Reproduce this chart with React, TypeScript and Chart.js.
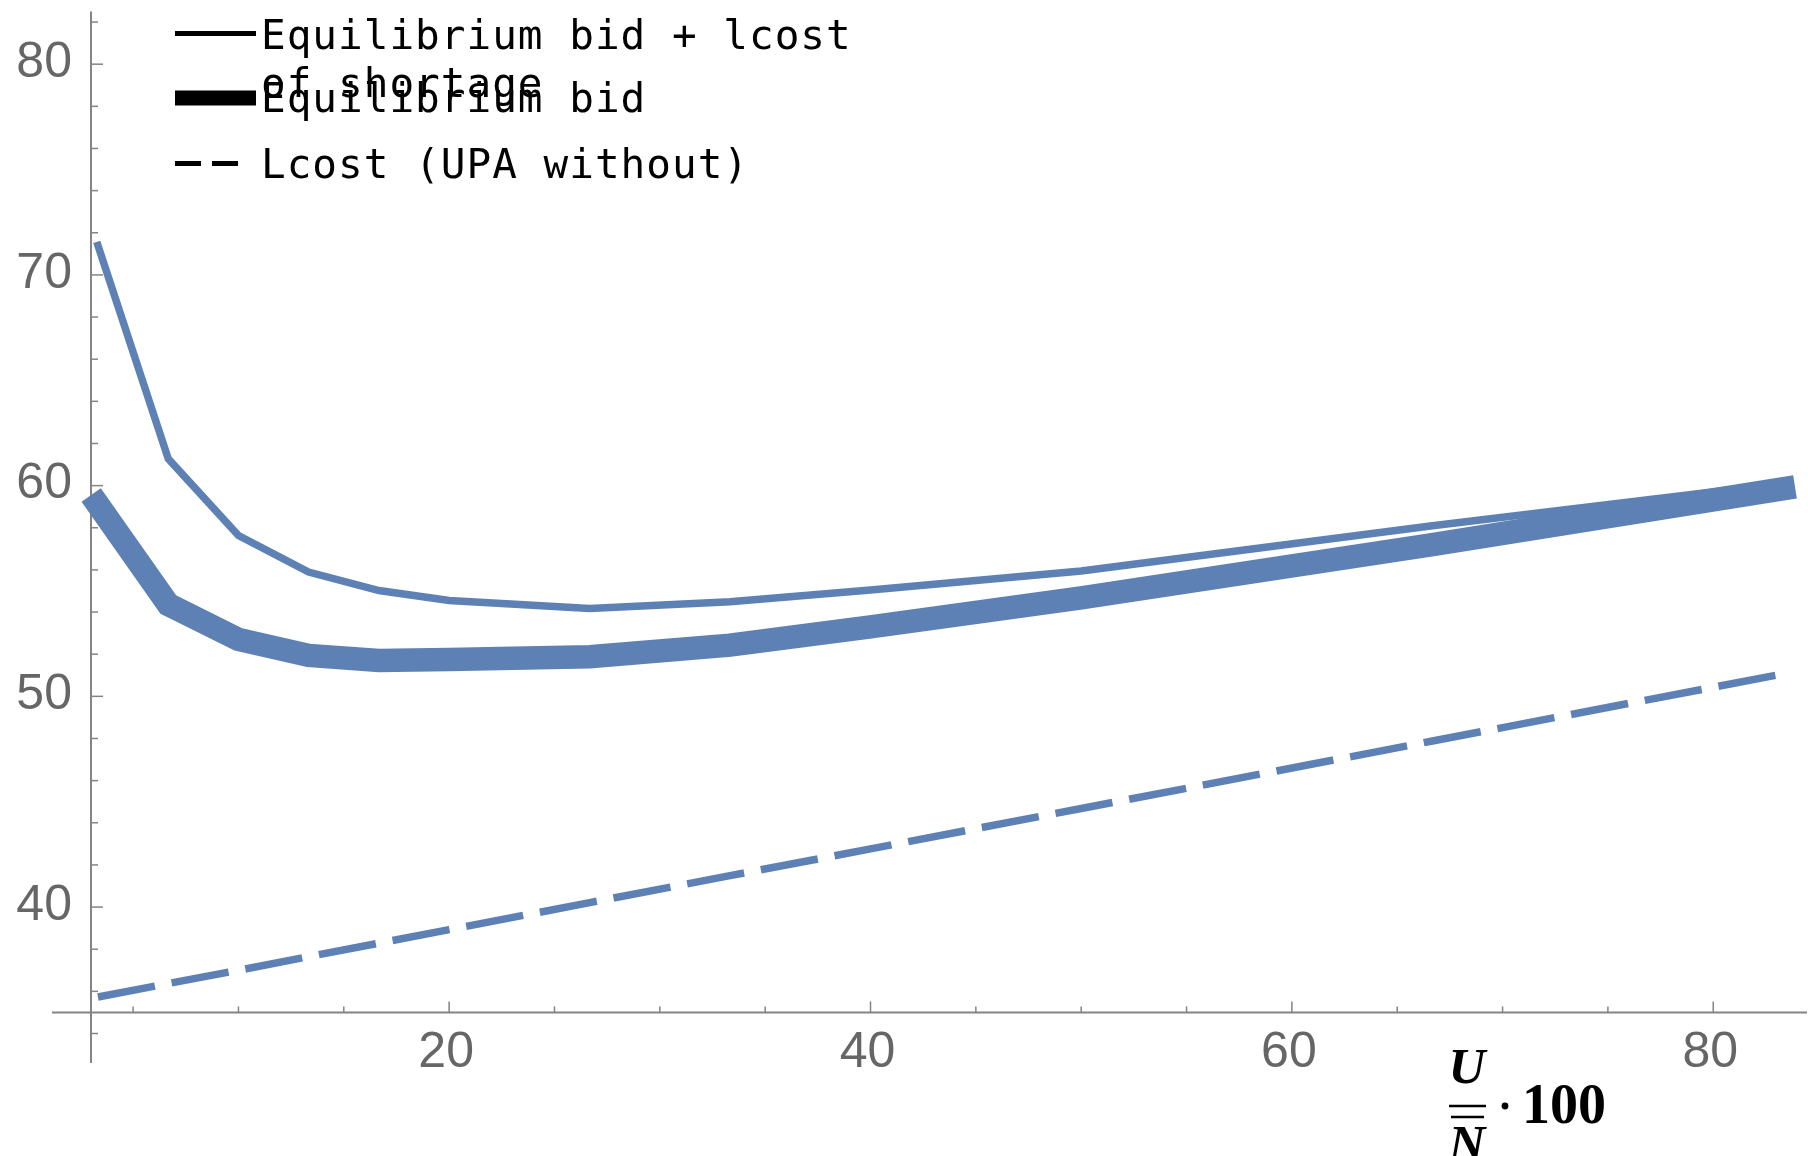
import React, { useEffect, useRef } from 'react';
import { Chart, registerables } from 'chart.js';

Chart.register(...registerables);

// U / N̄ · 100
const xValues = [3.33, 6.67, 10, 13.33, 16.67, 20, 26.67, 33.33, 40, 50, 66.67, 83.33];
// Equilibrium bid + lcost of shortage (thin line)
const bidPlusShortage = [71.4, 61.27, 57.63, 55.9, 55.02, 54.55, 54.17, 54.49, 55.05, 55.95, 58.1, 60.1];
// Equilibrium bid (thick line)
const equilibriumBid = [59.1, 54.36, 52.7, 51.94, 51.7, 51.75, 51.88, 52.43, 53.3, 54.67, 57.2, 59.85];
// Lcost (UPA without) (dashed line)
const lcostWithout = [35.73, 36.37, 37.0, 37.65, 38.29, 38.93, 40.21, 41.49, 42.76, 44.68, 47.88, 51.07];

const xMajorTicks = [20, 40, 60, 80];
const xMinorTicks = [5, 10, 15, 25, 30, 35, 45, 50, 55, 65, 70, 75];
const yMajorTicks = [40, 50, 60, 70, 80];
const yMinorTicks = [34, 36, 38, 42, 44, 46, 48, 52, 54, 56, 58, 62, 64, 66, 68, 72, 74, 76, 78, 82];

const legendLabels = ['Equilibrium bid + lcost', 'of shortage', 'Equilibrium bid', 'Lcost (UPA without)'];

const X_ORIGIN = 3;
const Y_ORIGIN = 35;
const BLUE = '#5E81B5';
const AXIS = '#848484';
const TICK_LABEL = '#666666';

const toPoints = (ys: number[]) => xValues.map((x, i) => ({ x, y: ys[i] }));

const axesPlugin = {
  id: 'mathAxes',
  beforeDatasetsDraw(chart: any) {
    const { ctx, chartArea, scales } = chart;
    const xs = scales.x;
    const ys = scales.y;
    const ox = xs.getPixelForValue(X_ORIGIN);
    const oy = ys.getPixelForValue(Y_ORIGIN);
    ctx.save();
    ctx.strokeStyle = AXIS;
    ctx.lineWidth = 2;
    ctx.beginPath();
    ctx.moveTo(chartArea.left, oy);
    ctx.lineTo(chartArea.right, oy);
    ctx.stroke();
    ctx.beginPath();
    ctx.moveTo(ox, chartArea.top);
    ctx.lineTo(ox, chartArea.bottom);
    ctx.stroke();
    ctx.lineWidth = 1.5;
    xMajorTicks.forEach((v) => {
      const p = xs.getPixelForValue(v);
      ctx.beginPath();
      ctx.moveTo(p, oy);
      ctx.lineTo(p, oy - 11);
      ctx.stroke();
    });
    xMinorTicks.forEach((v) => {
      const p = xs.getPixelForValue(v);
      ctx.beginPath();
      ctx.moveTo(p, oy);
      ctx.lineTo(p, oy - 6);
      ctx.stroke();
    });
    yMajorTicks.forEach((v) => {
      const p = ys.getPixelForValue(v);
      ctx.beginPath();
      ctx.moveTo(ox, p);
      ctx.lineTo(ox + 12, p);
      ctx.stroke();
    });
    yMinorTicks.forEach((v) => {
      const p = ys.getPixelForValue(v);
      ctx.beginPath();
      ctx.moveTo(ox, p);
      ctx.lineTo(ox + 7, p);
      ctx.stroke();
    });
    ctx.fillStyle = TICK_LABEL;
    ctx.font = "50px 'Liberation Sans', Arial, sans-serif";
    ctx.textAlign = 'center';
    ctx.textBaseline = 'middle';
    xMajorTicks.forEach((v) => {
      ctx.fillText(String(v), xs.getPixelForValue(v) - 3, oy + 41);
    });
    ctx.textAlign = 'right';
    yMajorTicks.forEach((v) => {
      ctx.fillText(String(v), ox - 19, ys.getPixelForValue(v) - 1);
    });
    ctx.restore();
  },
};

const overlayPlugin = {
  id: 'overlayText',
  afterDraw(chart: any) {
    const { ctx } = chart;
    ctx.save();
    ctx.strokeStyle = '#000';
    ctx.fillStyle = '#000';
    ctx.lineCap = 'butt';
    ctx.lineWidth = 5;
    ctx.beginPath();
    ctx.moveTo(175, 33.5);
    ctx.lineTo(256, 33.5);
    ctx.stroke();
    ctx.lineWidth = 15;
    ctx.beginPath();
    ctx.moveTo(175, 98);
    ctx.lineTo(256, 98);
    ctx.stroke();
    ctx.lineWidth = 5;
    ctx.setLineDash([26, 11]);
    ctx.beginPath();
    ctx.moveTo(175, 163.5);
    ctx.lineTo(238, 163.5);
    ctx.stroke();
    ctx.setLineDash([]);

    ctx.font = "41px 'DejaVu Sans Mono', monospace";
    (ctx as any).letterSpacing = '1px';
    ctx.textAlign = 'left';
    ctx.textBaseline = 'alphabetic';
    ctx.fillText(legendLabels[0], 261, 48.5);
    ctx.fillText(legendLabels[1], 261, 97);
    ctx.fillText(legendLabels[2], 261, 112);
    ctx.fillText(legendLabels[3], 261, 178);
    (ctx as any).letterSpacing = '0px';

    // x-axis label: U / N̄ · 100
    ctx.font = "bold italic 51px 'Liberation Serif', serif";
    ctx.textAlign = 'center';
    ctx.fillText('U', 1467, 1083);
    ctx.fillText('N', 1467, 1160);
    ctx.lineWidth = 2.5;
    ctx.beginPath();
    ctx.moveTo(1449, 1106);
    ctx.lineTo(1486, 1106);
    ctx.stroke();
    ctx.beginPath();
    ctx.moveTo(1451, 1117);
    ctx.lineTo(1484, 1117);
    ctx.stroke();
    ctx.beginPath();
    ctx.arc(1505, 1106, 3.4, 0, Math.PI * 2);
    ctx.fill();
    ctx.font = "bold 56px 'Liberation Serif', serif";
    ctx.textAlign = 'left';
    ctx.fillText('100', 1522, 1123);
    ctx.restore();
  },
};

export default function App() {
  const canvasRef = useRef<HTMLCanvasElement | null>(null);

  useEffect(() => {
    if (!canvasRef.current) return;
    const chart = new Chart(canvasRef.current, {
      type: 'line',
      data: {
        datasets: [
          {
            label: legendLabels[0] + ' ' + legendLabels[1],
            data: toPoints(bidPlusShortage),
            borderColor: BLUE,
            borderWidth: 7.5,
            borderCapStyle: 'square',
            borderJoinStyle: 'miter',
            pointRadius: 0,
            tension: 0,
            fill: false,
          },
          {
            label: legendLabels[2],
            data: toPoints(equilibriumBid),
            borderColor: BLUE,
            borderWidth: 23.5,
            borderCapStyle: 'square',
            borderJoinStyle: 'miter',
            pointRadius: 0,
            tension: 0,
            fill: false,
          },
          {
            label: legendLabels[3],
            data: toPoints(lcostWithout),
            borderColor: BLUE,
            borderWidth: 7.5,
            borderDash: [58, 17],
            borderCapStyle: 'butt',
            pointRadius: 0,
            tension: 0,
            fill: false,
          },
        ],
      },
      options: {
        responsive: false,
        animation: false,
        devicePixelRatio: 1,
        events: [],
        layout: { padding: { left: 52, top: 11.5, right: 1, bottom: 93 } },
        scales: {
          x: { type: 'linear', min: 1.15, max: 84.45, display: false },
          y: { type: 'linear', min: 32.6, max: 82.5, display: false },
        },
        plugins: {
          legend: { display: false },
          tooltip: { enabled: false },
          title: { display: false },
        },
      },
      plugins: [axesPlugin, overlayPlugin],
    } as any);
    return () => chart.destroy();
  }, []);

  return (
    <div style={{ position: 'absolute', left: 0, top: 0, width: 1808, height: 1156, background: '#fff' }}>
      <canvas ref={canvasRef} width={1808} height={1156} style={{ display: 'block' }} />
    </div>
  );
}
